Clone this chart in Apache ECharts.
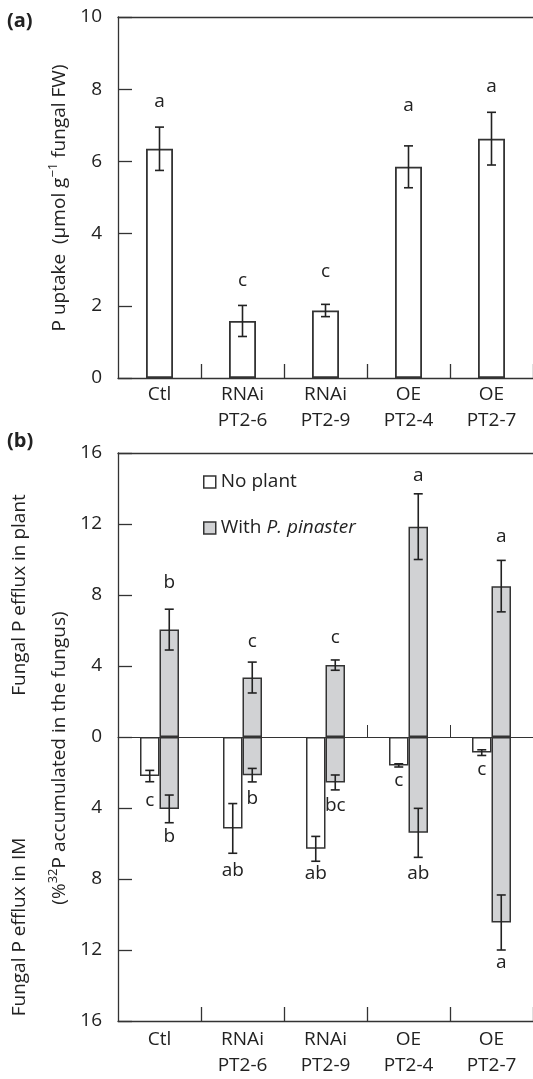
<!DOCTYPE html>
<html>
<head>
<meta charset="utf-8">
<script src="https://cdn.jsdelivr.net/npm/echarts@6/dist/echarts.min.js"></script>
<style>
  html, body { margin: 0; padding: 0; background: #fff; }
  #chart { width: 533px; height: 1079px; }
</style>
</head>
<body>
<div id="chart"></div>
<script>
const categories = ['Ctl', 'RNAi\nPT2-6', 'RNAi\nPT2-9', 'OE\nPT2-4', 'OE\nPT2-7'];

// (a) P uptake
const uptake = [6.35, 1.58, 1.87, 5.85, 6.63];
const uptakeErr = [0.6, 0.43, 0.17, 0.58, 0.73];
const uptakeLetters = ['a', 'c', 'c', 'a', 'a'];
const uptakeLetterY = [7.66, 2.71, 2.94, 7.54, 8.08];

// (b) efflux in plant (with P. pinaster)
const plantWith = [6.05, 3.35, 4.05, 11.85, 8.5];
const plantWithErr = [1.15, 0.87, 0.29, 1.85, 1.45];
const plantWithLetters = ['b', 'c', 'c', 'a', 'a'];
const plantWithLetterY = [8.68, 5.39, 5.58, 14.74, 11.27];

// (b) efflux in IM, drawn downwards
const imNoPlant = [-2.2, -5.15, -6.3, -1.6, -0.88];
const imNoPlantErr = [0.32, 1.4, 0.7, 0.09, 0.16];
const imNoPlantLetters = ['c', 'ab', 'ab', 'c', 'c'];
const imNoPlantLetterY = [-3.59, -7.52, -7.71, -2.47, -1.82];

const imWith = [-4.05, -2.15, -2.56, -5.4, -10.45];
const imWithErr = [0.78, 0.38, 0.42, 1.38, 1.55];
const imWithLetters = ['b', 'b', 'bc', 'ab', 'a'];
const imWithLetterY = [-5.61, -3.46, -3.87, -7.71, -12.72];

const INK = '#222';
const FONT = '"Open Sans", sans-serif';
const GRAY = '#d1d2d4';
const BW = 19.5; // bar width in (b)
const CAP = 4.5;

const chart = echarts.init(document.getElementById('chart'));

const errorBars = (vals, errs, xOff, xi, yi) => ({
  type: 'custom',
  xAxisIndex: xi,
  yAxisIndex: yi,
  z: 10,
  data: vals.map((v, i) => [i, v, errs[i]]),
  renderItem: (params, api) => {
    const i = api.value(0), v = api.value(1), e = api.value(2);
    const x = api.coord([i, v])[0] + xOff;
    const y1 = api.coord([i, v + e])[1];
    const y2 = api.coord([i, v - e])[1];
    const style = { stroke: INK, lineWidth: 1.6 };
    return {
      type: 'group',
      children: [
        { type: 'line', shape: { x1: x, y1: y1, x2: x, y2: y2 }, style },
        { type: 'line', shape: { x1: x - CAP, y1: y1, x2: x + CAP, y2: y1 }, style },
        { type: 'line', shape: { x1: x - CAP, y1: y2, x2: x + CAP, y2: y2 }, style }
      ]
    };
  }
});

const letters = (texts, ys, xOff, xi, yi) => ({
  type: 'custom',
  xAxisIndex: xi,
  yAxisIndex: yi,
  z: 11,
  data: ys.map((y, i) => [i, y]),
  renderItem: (params, api) => {
    const p = api.coord([api.value(0), api.value(1)]);
    return {
      type: 'text',
      x: p[0] + xOff,
      y: p[1],
      style: {
        text: texts[params.dataIndex],
        fill: INK,
        font: '19px ' + FONT,
        align: 'center',
        verticalAlign: 'middle'
      }
    };
  }
});

const lineStyle = { color: '#333', width: 1.3 };

const catAxis = (gridIndex, extra) => Object.assign({
  type: 'category',
  gridIndex,
  data: categories,
  boundaryGap: true,
  axisLine: { show: true, onZero: false, lineStyle },
  axisTick: { show: false },
  axisLabel: { show: false },
  splitLine: { show: false }
}, extra);

const bottomLabels = margin => ({
  show: true,
  interval: 0,
  margin,
  color: INK,
  fontFamily: FONT,
  fontSize: 19,
  lineHeight: 26
});

const option = {
  animation: false,
  backgroundColor: '#fff',
  grid: [
    { left: 118, top: 17, width: 416.5, height: 361 },
    { left: 118, top: 453, width: 416.5, height: 574 }
  ],
  xAxis: [
    catAxis(0, {
      position: 'bottom',
      axisTick: { show: true, inside: true, length: 14, interval: i => i >= 1 && i <= 4, lineStyle },
      axisLabel: bottomLabels(4)
    }),
    catAxis(0, { position: 'top' }),
    catAxis(1, {
      position: 'bottom',
      axisTick: { show: true, inside: true, length: 14, interval: i => i >= 1 && i <= 4, lineStyle },
      axisLabel: bottomLabels(6)
    }),
    catAxis(1, { position: 'top' }),
    catAxis(1, {
      position: 'bottom',
      axisLine: { show: true, onZero: true, lineStyle: { color: '#333', width: 1 } },
      axisTick: { show: true, inside: true, length: 12, interval: i => i === 3 || i === 4, lineStyle: { color: '#333', width: 1 } }
    })
  ],
  yAxis: [
    {
      type: 'value',
      gridIndex: 0,
      min: 0,
      max: 10,
      interval: 2,
      axisLine: { show: true, lineStyle },
      axisTick: { show: true, inside: true, length: 14, lineStyle },
      axisLabel: { margin: 16, color: INK, fontFamily: FONT, fontSize: 19 },
      splitLine: { show: false }
    },
    {
      type: 'value',
      gridIndex: 1,
      min: -16,
      max: 16,
      interval: 4,
      axisLine: { show: true, lineStyle },
      axisTick: { show: true, inside: true, length: 14, lineStyle },
      axisLabel: { margin: 16, color: INK, fontFamily: FONT, fontSize: 19, formatter: v => String(Math.abs(v)) },
      splitLine: { show: false }
    }
  ],
  legend: {
    data: ['No plant', 'With P. pinaster'],
    orient: 'vertical',
    left: 203,
    top: 470,
    padding: 0,
    itemWidth: 12,
    itemHeight: 12,
    itemGap: 22,
    icon: 'rect',
    selectedMode: false,
    itemStyle: { borderColor: '#333', borderWidth: 1.5 },
    formatter: name => name === 'With P. pinaster' ? '{n|With }{i|P. pinaster}' : '{n|No plant}',
    textStyle: {
      color: INK,
      fontFamily: FONT,
      fontSize: 19,
      lineHeight: 24,
      rich: {
        n: { color: INK, fontFamily: FONT, fontSize: 19, lineHeight: 24 },
        i: { color: INK, fontFamily: FONT, fontSize: 19, lineHeight: 24, fontStyle: 'italic' }
      }
    }
  },
  graphic: [
    { type: 'text', left: 7, top: 11, style: { text: '(a)', fill: INK, font: 'bold 20px ' + FONT } },
    { type: 'text', left: 7, top: 431, style: { text: '(b)', fill: INK, font: 'bold 20px ' + FONT } },
    {
      type: 'text', x: 60, y: 198, rotation: Math.PI / 2,
      style: {
        text: '{n|P uptake  (μmol g}{s|−1}{n| fungal FW)}',
        align: 'center', verticalAlign: 'middle',
        rich: {
          n: { fill: INK, font: '19px ' + FONT, lineHeight: 26 },
          s: { fill: INK, font: '13px ' + FONT, lineHeight: 18, verticalAlign: 'top' }
        }
      }
    },
    {
      type: 'text', x: 20, y: 595, rotation: Math.PI / 2,
      style: { text: 'Fungal P efflux in plant', fill: INK, font: '19px ' + FONT, align: 'center', verticalAlign: 'middle' }
    },
    {
      type: 'text', x: 60, y: 758, rotation: Math.PI / 2,
      style: {
        text: '{n|(%}{s|32}{n|P accumulated in the fungus)}',
        align: 'center', verticalAlign: 'middle',
        rich: {
          n: { fill: INK, font: '19px ' + FONT, lineHeight: 26 },
          s: { fill: INK, font: '13px ' + FONT, lineHeight: 18, verticalAlign: 'top' }
        }
      }
    },
    {
      type: 'text', x: 20, y: 927, rotation: Math.PI / 2,
      style: { text: 'Fungal P efflux in IM', fill: INK, font: '19px ' + FONT, align: 'center', verticalAlign: 'middle' }
    }
  ],
  series: [
    {
      name: 'P uptake',
      type: 'bar',
      xAxisIndex: 0,
      yAxisIndex: 0,
      barWidth: 27,
      data: uptake,
      itemStyle: { color: '#fff', borderColor: '#333', borderWidth: 1.8 }
    },
    errorBars(uptake, uptakeErr, 0, 0, 0),
    letters(uptakeLetters, uptakeLetterY, 0, 0, 0),

    {
      name: 'No plant',
      type: 'bar',
      xAxisIndex: 2,
      yAxisIndex: 1,
      stack: 'np',
      barWidth: BW,
      barGap: '0%',
      data: imNoPlant,
      itemStyle: { color: '#fff', borderColor: '#333', borderWidth: 1.5 }
    },
    {
      name: 'With P. pinaster',
      type: 'bar',
      xAxisIndex: 2,
      yAxisIndex: 1,
      stack: 'wp',
      barWidth: BW,
      barGap: '0%',
      data: plantWith,
      itemStyle: { color: GRAY, borderColor: '#333', borderWidth: 1.5 }
    },
    {
      name: 'With P. pinaster',
      type: 'bar',
      xAxisIndex: 2,
      yAxisIndex: 1,
      stack: 'wp',
      barWidth: BW,
      barGap: '0%',
      data: imWith,
      itemStyle: { color: GRAY, borderColor: '#333', borderWidth: 1.5 }
    },
    errorBars(imNoPlant, imNoPlantErr, -BW / 2, 2, 1),
    errorBars(plantWith, plantWithErr, BW / 2, 2, 1),
    errorBars(imWith, imWithErr, BW / 2, 2, 1),
    letters(imNoPlantLetters, imNoPlantLetterY, -BW / 2, 2, 1),
    letters(plantWithLetters, plantWithLetterY, BW / 2, 2, 1),
    letters(imWithLetters, imWithLetterY, BW / 2, 2, 1)
  ]
};

chart.setOption(option);
</script>
</body>
</html>
